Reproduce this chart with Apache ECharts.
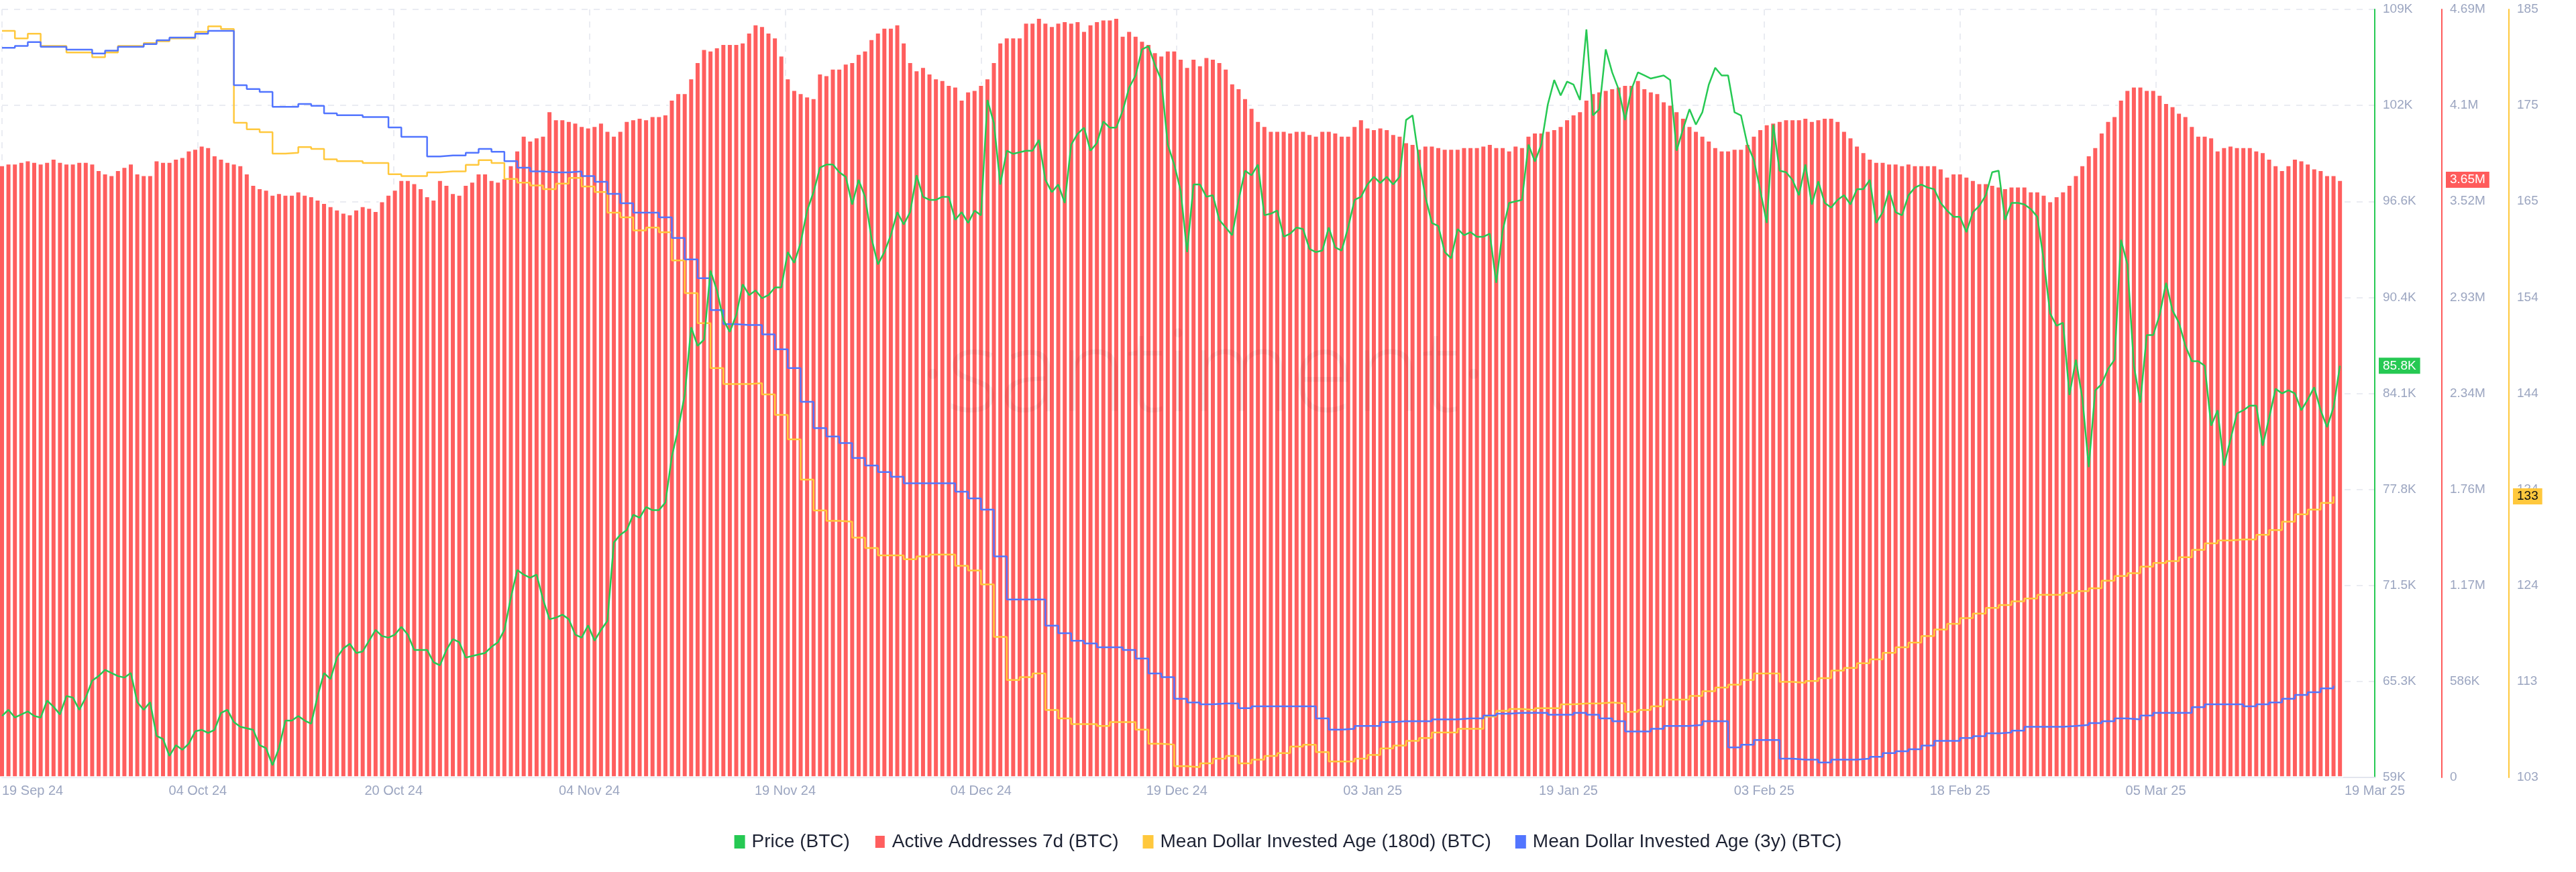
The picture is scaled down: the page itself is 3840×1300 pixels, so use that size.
<!DOCTYPE html>
<html>
<head>
<meta charset="utf-8">
<script src="https://cdn.jsdelivr.net/npm/echarts@6/dist/echarts.min.js"></script>
<style>html,body{margin:0;padding:0;background:#fff}#c{width:3840px;height:1300px}</style>
</head>
<body>
<div id="c"></div>
<script>
// ---------- axis tick labels ----------
const xTickLabels = ['19 Sep 24','04 Oct 24','20 Oct 24','04 Nov 24','19 Nov 24','04 Dec 24','19 Dec 24','03 Jan 25','19 Jan 25','03 Feb 25','18 Feb 25','05 Mar 25'];
const lastDateLabel = '19 Mar 25';
const priceTicks = ['59K','65.3K','71.5K','77.8K','84.1K','90.4K','96.6K','102K','109K'];
const activeTicks = ['0','586K','1.17M','1.76M','2.34M','2.93M','3.52M','4.1M','4.69M'];
const mdiaTicks = ['103','113','124','134','144','154','165','175','185'];

// ---------- data (days since 19 Sep 24) ----------
const SAMPLE_STEP_DAYS = 0.5;   // price / active addresses: two samples per day
const MDIA_STEP_DAYS = 1;       // MDIA: one value per day

// Price (BTC), thousands of USD
const priceK = [
63.0,63.4,62.9,63.1,63.3,63.0,62.9,64.0,63.6,63.1,
64.3,64.2,63.4,64.2,65.3,65.6,66.0,65.8,65.6,65.5,
65.8,63.9,63.4,63.9,61.7,61.5,60.4,61.1,60.8,61.2,
62.0,62.1,61.9,62.1,63.2,63.4,62.6,62.3,62.2,62.1,
61.1,60.9,59.8,60.9,62.7,62.7,63.0,62.7,62.5,64.3,
65.8,65.4,66.8,67.4,67.7,67.1,67.2,67.9,68.6,68.2,
68.1,68.3,68.8,68.3,67.3,67.3,67.3,66.5,66.3,67.3,
68.0,67.8,66.8,66.9,67.0,67.1,67.5,67.8,68.6,70.7,
72.5,72.2,72.0,72.2,70.6,69.3,69.4,69.6,69.3,68.3,
68.1,68.9,67.9,68.6,69.2,74.3,74.8,75.1,76.1,75.9,
76.6,76.4,76.4,76.9,79.9,81.7,83.9,88.3,87.1,87.5,
92.0,90.7,88.8,88.0,89.1,91.1,90.4,90.7,90.2,90.4,
90.9,90.9,93.2,92.5,93.8,95.9,97.1,98.7,98.9,98.9,
98.4,98.1,96.3,97.9,96.8,94.1,92.4,93.2,94.3,95.8,
95.0,95.8,98.2,96.8,96.6,96.6,96.8,96.8,95.3,95.8,
95.1,95.9,95.6,103.1,101.6,97.6,99.8,99.6,99.7,99.8,
99.8,100.5,97.9,97.1,97.6,96.4,100.2,100.9,101.3,99.8,
100.3,101.7,101.3,101.3,102.4,103.9,104.7,106.4,106.6,105.4,
104.4,100.2,98.9,97.2,93.2,97.6,97.6,96.8,96.9,95.3,
94.8,94.3,96.6,98.5,98.2,98.9,95.6,95.7,95.9,94.2,
94.4,94.8,94.7,93.4,93.2,93.3,94.8,93.5,93.3,94.8,
96.6,96.8,97.6,98.1,97.7,98.1,97.6,98.1,101.8,102.1,
99.2,96.8,95.1,94.9,93.2,92.8,94.7,94.3,94.5,94.2,
94.2,94.4,91.2,94.6,96.4,96.5,96.6,100.2,99.1,100.2,
102.8,104.4,103.4,104.3,104.1,103.1,107.7,102.1,102.5,106.4,
104.9,103.8,101.8,103.8,104.9,104.7,104.5,104.6,104.7,104.4,
99.8,101.2,102.5,101.5,102.3,104.1,105.2,104.7,104.7,102.3,
102.1,100.2,99.2,97.2,95.1,101.5,98.5,98.4,97.9,96.9,
98.9,96.3,97.8,96.4,96.1,96.6,96.9,96.3,97.3,97.3,
97.9,95.1,95.8,97.2,95.8,95.6,96.9,97.4,97.6,97.4,
97.3,96.4,95.9,95.5,95.5,94.5,95.8,96.2,96.9,98.4,
98.5,95.3,96.4,96.4,96.3,96.0,95.5,92.7,89.2,88.4,
88.6,83.9,86.2,83.7,79.2,84.2,84.6,85.6,86.2,94.0,
92.4,85.8,83.4,87.8,87.8,89.1,91.2,89.4,88.6,87.1,
86.1,86.1,85.8,81.9,82.9,79.3,81.0,82.7,82.9,83.2,
83.2,80.6,82.4,84.3,84.0,84.2,84.0,82.9,83.6,84.4,
82.9,81.8,83.1,85.8];

// Active Addresses 7d (BTC), millions
const activeAddrM = [
3.74,3.75,3.75,3.76,3.77,3.76,3.75,3.76,3.78,3.76,
3.75,3.75,3.76,3.76,3.75,3.71,3.69,3.68,3.71,3.73,
3.75,3.69,3.68,3.68,3.77,3.76,3.76,3.78,3.79,3.83,
3.84,3.86,3.85,3.80,3.78,3.76,3.75,3.74,3.69,3.62,
3.60,3.59,3.56,3.57,3.56,3.56,3.58,3.56,3.55,3.53,
3.51,3.49,3.47,3.45,3.44,3.47,3.49,3.48,3.46,3.52,
3.56,3.59,3.65,3.65,3.63,3.60,3.55,3.53,3.65,3.62,
3.57,3.56,3.62,3.64,3.69,3.69,3.65,3.64,3.66,3.74,
3.83,3.92,3.89,3.91,3.92,4.07,4.02,4.02,4.01,4.00,
3.98,3.97,3.98,4.00,3.95,3.92,3.95,4.01,4.02,4.03,
4.02,4.04,4.04,4.05,4.14,4.18,4.18,4.27,4.37,4.45,
4.44,4.46,4.48,4.48,4.48,4.49,4.55,4.60,4.59,4.55,
4.52,4.41,4.27,4.20,4.18,4.16,4.15,4.30,4.29,4.33,
4.33,4.36,4.37,4.42,4.44,4.51,4.55,4.58,4.58,4.60,
4.49,4.37,4.32,4.34,4.30,4.27,4.26,4.23,4.22,4.14,
4.19,4.20,4.23,4.27,4.37,4.49,4.52,4.52,4.52,4.61,
4.61,4.64,4.61,4.59,4.61,4.62,4.61,4.62,4.56,4.60,
4.62,4.63,4.63,4.64,4.53,4.56,4.53,4.50,4.48,4.43,
4.41,4.44,4.44,4.39,4.34,4.39,4.35,4.40,4.39,4.37,
4.33,4.24,4.21,4.15,4.09,4.01,3.98,3.95,3.95,3.95,
3.94,3.95,3.95,3.93,3.92,3.95,3.95,3.94,3.92,3.92,
3.98,4.02,3.97,3.96,3.97,3.96,3.93,3.92,3.88,3.87,
3.84,3.86,3.86,3.85,3.84,3.84,3.84,3.85,3.85,3.85,
3.86,3.87,3.85,3.85,3.83,3.86,3.85,3.92,3.94,3.94,
3.95,3.96,3.98,4.02,4.05,4.07,4.14,4.18,4.19,4.20,
4.21,4.22,4.23,4.23,4.26,4.21,4.19,4.18,4.13,4.11,
4.07,4.03,3.98,3.95,3.92,3.89,3.85,3.83,3.83,3.84,
3.84,3.87,3.92,3.96,3.99,4.00,4.01,4.02,4.02,4.02,
4.03,4.01,4.02,4.03,4.03,4.01,3.95,3.91,3.86,3.82,
3.78,3.76,3.76,3.75,3.75,3.74,3.75,3.74,3.74,3.74,
3.74,3.72,3.67,3.69,3.69,3.67,3.65,3.63,3.63,3.62,
3.61,3.60,3.61,3.61,3.61,3.58,3.58,3.56,3.52,3.55,
3.58,3.62,3.68,3.74,3.80,3.85,3.94,4.01,4.04,4.14,
4.20,4.22,4.22,4.20,4.20,4.17,4.12,4.10,4.06,4.04,
3.98,3.92,3.92,3.91,3.83,3.85,3.86,3.85,3.85,3.85,
3.83,3.82,3.78,3.74,3.71,3.74,3.78,3.77,3.75,3.72,
3.71,3.68,3.68,3.65];

// Mean Dollar Invested Age (180d) (BTC), days
const mdia180d = [
182.7,181.9,182.4,181.1,181.1,180.4,180.4,179.9,180.4,181.1,
181.1,181.4,181.6,181.9,181.9,182.6,183.2,182.9,172.9,172.2,
171.9,169.6,169.7,170.3,170.1,169.0,168.8,168.8,168.6,168.6,
167.4,167.2,167.2,167.6,167.7,167.7,168.4,168.9,168.6,166.9,
166.5,166.2,165.8,166.4,167.0,166.1,165.5,163.3,162.8,161.4,
161.7,161.2,158.2,154.7,151.5,146.7,145.0,145.0,145.1,143.9,
141.7,139.1,134.8,131.5,130.4,130.3,128.6,127.5,126.7,126.7,
126.3,126.6,126.8,126.8,125.6,125.1,123.6,118.0,113.4,113.7,
114.1,110.2,109.3,108.7,108.7,108.5,108.9,108.9,108.1,106.6,
106.5,104.2,104.1,104.5,105.0,105.3,104.5,104.9,105.3,105.6,
106.3,106.5,105.7,104.7,104.7,105.0,105.4,106.1,106.4,106.9,
107.2,107.8,107.8,108.2,108.2,109.5,110.1,110.3,110.2,110.4,
110.4,110.8,110.9,110.9,111.0,110.9,110.0,110.2,110.6,111.3,
111.3,111.7,112.2,112.6,112.9,113.4,114.1,114.1,113.2,113.1,
113.3,113.6,114.4,114.7,115.2,115.6,116.3,116.9,117.4,118.1,
118.8,119.4,120.0,120.5,121.1,121.4,121.8,122.1,122.5,122.5,
122.7,122.9,123.2,124.0,124.5,124.8,125.5,125.9,126.1,126.5,
127.3,128.0,128.3,128.4,128.4,128.9,129.4,130.3,131.1,131.6,
132.3,133.0];

// Mean Dollar Invested Age (3y) (BTC), drawn on the same scale
const mdia3y = [
180.9,181.1,181.5,181.0,181.0,180.7,180.7,180.3,180.6,181.0,
181.0,181.3,181.7,182.0,182.0,182.4,182.7,182.7,176.9,176.5,
176.2,174.6,174.6,174.9,174.7,173.9,173.7,173.7,173.5,173.5,
172.4,171.4,171.4,169.3,169.4,169.4,169.7,170.1,169.8,168.8,
168.1,167.7,167.6,167.6,167.7,167.2,166.6,165.3,164.3,163.3,
163.3,162.8,160.6,158.3,156.3,152.9,151.4,151.3,151.3,150.3,
148.7,146.7,143.1,140.3,139.4,138.7,137.1,136.3,135.6,135.1,
134.4,134.4,134.4,134.4,133.5,132.8,131.6,126.6,122.0,122.0,
122.0,119.2,118.4,117.6,117.3,116.9,116.9,116.6,115.7,114.1,
113.7,111.4,111.0,110.8,110.9,110.9,110.4,110.6,110.6,110.6,
110.6,110.6,109.3,108.1,108.2,108.5,108.5,108.9,109.0,109.0,
109.0,109.2,109.2,109.3,109.3,109.6,109.8,109.9,109.9,109.9,
109.7,109.7,109.9,109.7,109.3,109.0,107.9,107.9,108.2,108.5,
108.5,108.6,109.0,109.0,106.2,106.5,107.0,107.0,105.0,104.9,
104.9,104.6,104.9,104.9,105.0,105.2,105.6,105.8,106.0,106.4,
106.9,106.9,107.2,107.4,107.7,107.8,108.0,108.4,108.4,108.4,
108.5,108.6,108.8,109.0,109.3,109.2,109.6,109.9,109.9,109.9,
110.5,110.8,110.8,110.8,110.6,110.8,111.0,111.4,111.8,112.1,
112.5,112.8];

// ---------- chart ----------
const X_INTERVAL = 15.2;
const X_MAX = 184.2;
const FONT = '"Liberation Sans", Arial, sans-serif';
const LABEL_COLOR = '#9ba5c0';
const GRID_COLOR = '#e3e6ee';
const C_PRICE = '#26c953', C_AA = '#ff5b5b', C_180 = '#ffc83d', C_3Y = '#5275ff';
const C_AA_BAR = '#ff5e5e';
const names = ['Price (BTC)','Active Addresses 7d (BTC)','Mean Dollar Invested Age (180d) (BTC)','Mean Dollar Invested Age (3y) (BTC)'];

const halfDay = (arr) => arr.map((v, i) => [i * SAMPLE_STEP_DAYS, v]);
const daily = (arr) => arr.map((v, i) => [i * MDIA_STEP_DAYS, v]);
// one dashed line per labelled date tick; the extra trailing ticks stay invisible
const vGridColors = xTickLabels.map(() => GRID_COLOR).concat(['rgba(0,0,0,0)', 'rgba(0,0,0,0)']);

function yAxisBase(offset, color, min, max, interval, labels, split) {
  return {
    type: 'value', position: 'right', offset: offset,
    min: min, max: max, interval: interval,
    axisLine: { show: true, onZero: false, lineStyle: { color: color, width: 2 } },
    axisTick: { show: false },
    axisLabel: { color: LABEL_COLOR, fontSize: 19, fontFamily: FONT, margin: 12,
                 formatter: (v, i) => labels[i] },
    splitLine: { show: split, lineStyle: { color: GRID_COLOR, type: [9, 9], width: 1.5 } }
  };
}

const chart = echarts.init(document.getElementById('c'), null, { renderer: 'canvas' });
chart.setOption({
  animation: false,
  backgroundColor: '#ffffff',
  textStyle: { fontFamily: FONT },
  grid: { left: 2, right: 300, top: 14, bottom: 141, containLabel: false },
  legend: {
    data: names, left: 'center', top: 1236, icon: 'rect',
    itemWidth: 16, itemHeight: 20, itemGap: 36,
    textStyle: { fontSize: 28, color: '#1d2233', fontFamily: FONT, padding: [0, 0, 0, 5] },
    selectedMode: false
  },
  xAxis: {
    type: 'value', min: 0, max: X_MAX, interval: X_INTERVAL,
    axisLine: { show: true, onZero: false, lineStyle: { color: '#e2e5ee', width: 2 } },
    axisTick: { show: false },
    splitLine: { show: true, lineStyle: { color: vGridColors, type: [9, 9], width: 1.5 } },
    axisLabel: {
      color: LABEL_COLOR, fontSize: 20, fontFamily: FONT, margin: 10,
      showMaxLabel: true, showMinLabel: true, alignMinLabel: 'left',
      formatter: (v) => {
        if (Math.abs(v - X_MAX) < 1e-6) return lastDateLabel;
        const k = Math.round(v / X_INTERVAL);
        return (Math.abs(v - k * X_INTERVAL) < 1e-6 && k < xTickLabels.length) ? xTickLabels[k] : '';
      }
    }
  },
  yAxis: [
    yAxisBase(0, C_PRICE, 59, 109, 6.25, priceTicks, true),
    yAxisBase(100, C_AA, 0, 4.69, 0.58625, activeTicks, false),
    yAxisBase(200, C_180, 103, 185, 10.25, mdiaTicks, false)
  ],
  series: [
    {
      // full-pitch bars with a white outline: the outline forms the thin white gaps
      name: names[1], type: 'bar', yAxisIndex: 1, data: halfDay(activeAddrM),
      barWidth: 9.6, itemStyle: { color: C_AA_BAR, borderColor: '#ffffff', borderWidth: 1.8 },
      z: 2, silent: true
    },
    {
      name: names[2], type: 'line', yAxisIndex: 2, data: daily(mdia180d), step: 'end',
      showSymbol: false, lineStyle: { color: C_180, width: 2.5 }, itemStyle: { color: C_180 }, z: 4, silent: true
    },
    {
      name: names[3], type: 'line', yAxisIndex: 2, data: daily(mdia3y), step: 'end',
      showSymbol: false, lineStyle: { color: C_3Y, width: 2.5 }, itemStyle: { color: C_3Y }, z: 5, silent: true
    },
    {
      name: names[0], type: 'line', yAxisIndex: 0, data: halfDay(priceK),
      showSymbol: false, lineStyle: { color: C_PRICE, width: 2.5 }, itemStyle: { color: C_PRICE }, z: 6, silent: true
    }
  ]
});

// badges with the latest values, placed through the axes' own scales
const xRight = chart.convertToPixel({ xAxisIndex: 0 }, X_MAX);
const lastP = priceK[priceK.length - 1];
const lastA = activeAddrM[activeAddrM.length - 1];
const lastM = mdia180d[mdia180d.length - 1];
const badges = [
  { axis: 0, value: lastP, text: lastP.toFixed(1) + 'K', bg: C_PRICE, fg: '#ffffff', off: 0 },
  { axis: 1, value: lastA, text: lastA.toFixed(2) + 'M', bg: C_AA, fg: '#ffffff', off: 100 },
  { axis: 2, value: lastM, text: String(Math.round(lastM)), bg: C_180, fg: '#111111', off: 200 }
];
const graphics = [{
  type: 'text', left: 1370, top: 480, silent: true, z: 3,
  style: { text: '·santiment·', font: '300 170px "Open Sans", sans-serif', fill: 'rgba(60,20,20,0.06)' }
}];
badges.forEach(b => {
  graphics.push({
    type: 'text', x: xRight + b.off + 6, y: chart.convertToPixel({ yAxisIndex: b.axis }, b.value),
    z: 100, silent: true,
    style: { text: b.text, fill: b.fg, backgroundColor: b.bg, padding: [3, 6, 2, 6],
             font: '19px ' + FONT, verticalAlign: 'middle', align: 'left' }
  });
});
chart.setOption({ graphic: graphics });
</script>
</body>
</html>
